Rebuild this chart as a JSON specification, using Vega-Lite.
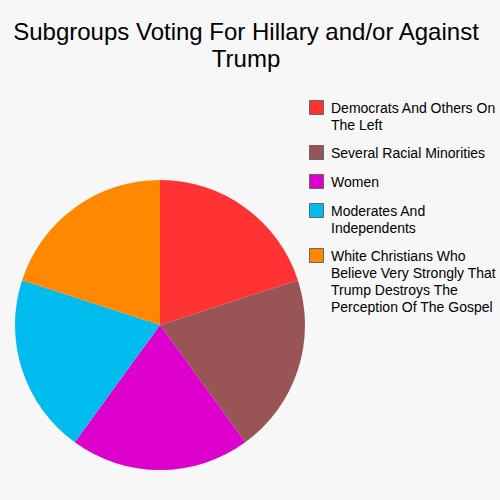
{
  "$schema": "https://vega.github.io/schema/vega-lite/v6.json",
  "width": 290,
  "height": 290,
  "autosize": {"type": "none"},
  "padding": {"left": 15, "top": 180, "right": 195, "bottom": 30},
  "background": "#f7f7f7",
  "title": {
    "text": ["Subgroups Voting For Hillary and/or Against", "Trump"],
    "font": "Liberation Sans",
    "fontSize": 24,
    "fontWeight": "normal",
    "color": "#000000",
    "anchor": "middle",
    "lineHeight": 27,
    "dx": 86,
    "dy": -24
  },
  "data": {
    "values": [
      {"group": "Democrats And Others On The Left", "value": 1, "idx": 1},
      {"group": "Several Racial Minorities", "value": 1, "idx": 2},
      {"group": "Women", "value": 1, "idx": 3},
      {"group": "Moderates And Independents", "value": 1, "idx": 4},
      {"group": "White Christians Who Believe Very Strongly That Trump Destroys The Perception Of The Gospel", "value": 1, "idx": 5}
    ]
  },
  "mark": {"type": "arc", "stroke": null},
  "encoding": {
    "theta": {"field": "value", "type": "quantitative", "stack": true},
    "order": {"field": "idx", "type": "quantitative"},
    "color": {
      "field": "group",
      "type": "nominal",
      "scale": {
        "domain": [
          "Democrats And Others On The Left",
          "Several Racial Minorities",
          "Women",
          "Moderates And Independents",
          "White Christians Who Believe Very Strongly That Trump Destroys The Perception Of The Gospel"
        ],
        "range": ["#ff3333", "#995555", "#dd00cc", "#00bbee", "#ff8800"]
      },
      "legend": {
        "title": null,
        "orient": "none",
        "legendX": 294,
        "legendY": -80,
        "padding": 0,
        "symbolType": "square",
        "symbolSize": 196,
        "symbolStrokeColor": "#666666",
        "symbolStrokeWidth": 1,
        "symbolOpacity": 1,
        "labelFont": "Liberation Sans",
        "labelFontSize": 14,
        "labelColor": "#000000",
        "labelLimit": 300,
        "labelOffset": 7,
        "labelBaseline": "top",
        "rowPadding": 10,
        "encode": {
          "labels": {"update": {"lineHeight": {"value": 17}, "dy": {"value": -6}}}
        },
        "labelExpr": "datum.label == 'Democrats And Others On The Left' ? ['Democrats And Others On', 'The Left'] : datum.label == 'Moderates And Independents' ? ['Moderates And', 'Independents'] : datum.label == 'Several Racial Minorities' || datum.label == 'Women' ? datum.label : ['White Christians Who', 'Believe Very Strongly That', 'Trump Destroys The', 'Perception Of The Gospel']"
      }
    }
  },
  "config": {
    "view": {"stroke": null}
  }
}
